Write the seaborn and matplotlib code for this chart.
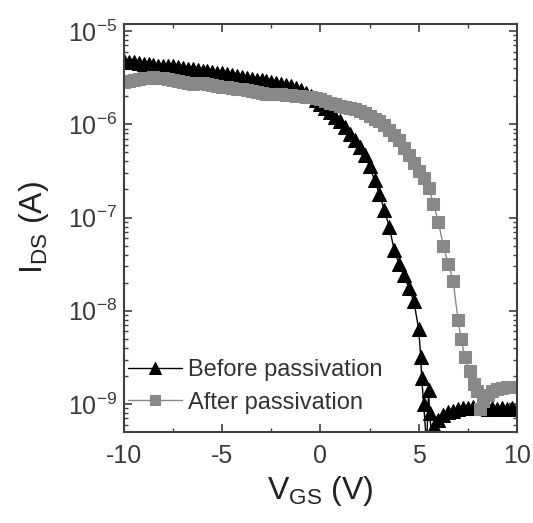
"""
Transfer curves I_DS vs V_GS before and after passivation
"""

import numpy as np
import pandas as pd
import matplotlib
matplotlib.use("Agg")
import matplotlib.pyplot as plt
import seaborn as sns
from matplotlib.ticker import MultipleLocator, LogLocator, NullFormatter


# Data (V_GS in V, log10 of I_DS in A)
vgs_before = [-10, -9.75, -9.5, -9.25, -9, -8.75, -8.5, -8.25, -8, -7.75,
              -7.5, -7.25, -7, -6.75, -6.5, -6.25, -6, -5.75, -5.5, -5.25,
              -5, -4.75, -4.5, -4.25, -4, -3.75, -3.5, -3.25, -3, -2.75,
              -2.5, -2.25, -2, -1.75, -1.5, -1.25, -1, -0.75, -0.5, -0.25,
              0, 0.25, 0.5, 0.75, 1, 1.25, 1.5, 1.75, 2, 2.25,
              2.5, 2.75, 3, 3.25, 3.5, 3.75, 4, 4.25, 4.5, 4.75,
              5, 5.1, 5.15, 5.25, 5.4, 5.5, 5.55, 5.65, 5.8, 6,
              6.25, 6.5, 6.75, 7, 7.25, 7.5, 7.75, 8, 8.25, 8.5,
              8.75, 9, 9.25, 9.5, 9.75, 10]
log_before = [-5.32, -5.33, -5.33, -5.34, -5.35, -5.35, -5.36, -5.37, -5.37, -5.38,
              -5.38, -5.39, -5.40, -5.41, -5.41, -5.42, -5.43, -5.43, -5.44, -5.45,
              -5.45, -5.46, -5.47, -5.48, -5.49, -5.50, -5.51, -5.52, -5.53, -5.54,
              -5.55, -5.56, -5.57, -5.58, -5.59, -5.61, -5.63, -5.66, -5.70, -5.74,
              -5.78, -5.82, -5.87, -5.92, -5.97, -6.03, -6.10, -6.17, -6.24, -6.33,
              -6.45, -6.60, -6.75, -6.92, -7.10, -7.35, -7.50, -7.62, -7.76, -7.90,
              -8.20, -8.50, -8.72, -9.00, -9.45, -8.85, -9.10, -9.32, -9.24, -9.17,
              -9.12, -9.09, -9.07, -9.05, -9.04, -9.04, -9.03, -9.04, -9.04, -9.05,
              -9.04, -9.05, -9.04, -9.05, -9.04, -9.05]

vgs_after = [-10, -9.75, -9.5, -9.25, -9, -8.75, -8.5, -8.25, -8, -7.75,
             -7.5, -7.25, -7, -6.75, -6.5, -6.25, -6, -5.75, -5.5, -5.25,
             -5, -4.75, -4.5, -4.25, -4, -3.75, -3.5, -3.25, -3, -2.75,
             -2.5, -2.25, -2, -1.75, -1.5, -1.25, -1, -0.75, -0.5, -0.25,
             0, 0.25, 0.5, 0.75, 1, 1.25, 1.5, 1.75, 2, 2.25,
             2.5, 2.75, 3, 3.25, 3.5, 3.75, 4, 4.25, 4.5, 4.75,
             5, 5.25, 5.5, 5.75, 6, 6.25, 6.5, 6.75, 7, 7.15,
             7.35, 7.6, 7.8, 7.95, 8.1, 8.25, 8.5, 8.75, 9, 9.25,
             9.5, 9.75, 10]
log_after = [-5.55, -5.54, -5.52, -5.51, -5.50, -5.50, -5.49, -5.50, -5.50, -5.51,
             -5.52, -5.54, -5.55, -5.56, -5.57, -5.56, -5.56, -5.57, -5.58, -5.59,
             -5.60, -5.60, -5.61, -5.62, -5.62, -5.63, -5.64, -5.65, -5.66, -5.67,
             -5.67, -5.68, -5.68, -5.69, -5.69, -5.70, -5.70, -5.71, -5.71, -5.72,
             -5.73, -5.75, -5.77, -5.78, -5.80, -5.81, -5.82, -5.84, -5.86, -5.88,
             -5.91, -5.94, -5.97, -6.01, -6.06, -6.11, -6.17, -6.25, -6.33, -6.41,
             -6.50, -6.58, -6.68, -6.85, -7.05, -7.30, -7.50, -7.68, -8.10, -8.30,
             -8.50, -8.65, -8.78, -8.86, -9.05, -8.97, -8.90, -8.86, -8.84, -8.83,
             -8.82, -8.82, -8.82]

labels = ["Before passivation", "After passivation"]
ytick_vals = [1e-9, 1e-8, 1e-7, 1e-6, 1e-5]
ytick_text = [r"$10^{-9}$", r"$10^{-8}$", r"$10^{-7}$", r"$10^{-6}$", r"$10^{-5}$"]

before = pd.DataFrame({"vgs": vgs_before, "ids": np.power(10.0, log_before)})
after = pd.DataFrame({"vgs": vgs_after, "ids": np.power(10.0, log_after)})

sns.set_style("ticks")
plt.rcParams["font.family"] = ["Liberation Sans", "DejaVu Sans"]
plt.rcParams["mathtext.default"] = "regular"
plt.rcParams["axes.unicode_minus"] = False

fig = plt.figure(figsize=(5.33, 5.23), dpi=100)
ax = fig.add_axes([0.2326, 0.174, 0.7374, 0.780])

sns.lineplot(data=before, x="vgs", y="ids", ax=ax, color="black", lw=1,
             marker="^", markersize=10.5, markeredgecolor="black",
             label=labels[0], sort=False)
sns.lineplot(data=after, x="vgs", y="ids", ax=ax, color="#888888", lw=1,
             marker="s", markersize=8.5, markeredgecolor="#888888",
             label=labels[1], sort=False)

ax.set_yscale("log")
ax.set_xlim(-10, 10)
ax.set_ylim(10 ** -9.3, 10 ** -4.925)

ax.xaxis.set_major_locator(MultipleLocator(5))
ax.xaxis.set_minor_locator(MultipleLocator(2.5))
ax.set_yticks(ytick_vals)
ax.set_yticklabels(ytick_text)
ax.yaxis.set_minor_locator(LogLocator(base=10, subs=np.arange(2, 10)))
ax.yaxis.set_minor_formatter(NullFormatter())

edge = "#404040"
for sp in ax.spines.values():
    sp.set_color(edge)
    sp.set_linewidth(1.5)
ax.tick_params(which="both", direction="in", top=True, right=True, color=edge,
               labelcolor="#3a3a3a", labelsize=18)
ax.tick_params(which="major", length=6, width=1.2)
ax.tick_params(which="minor", length=3, width=1)
ax.tick_params(axis="x", pad=9)
ax.tick_params(axis="y", pad=5)

ax.set_xlabel(r"$V_{GS}$ (V)", fontsize=23, color="#222222", labelpad=4)
ax.set_ylabel(r"$I_{DS}$ (A)", fontsize=23, color="#222222", labelpad=12)

ax.legend(loc="lower left", frameon=False, fontsize=17, handlelength=2.3,
          handletextpad=0.25, borderaxespad=0, borderpad=0, labelspacing=0.45,
          bbox_to_anchor=(0.01, 0.045), labelcolor="#333333", markerscale=0.8)

fig.savefig("out.png", dpi=100)
